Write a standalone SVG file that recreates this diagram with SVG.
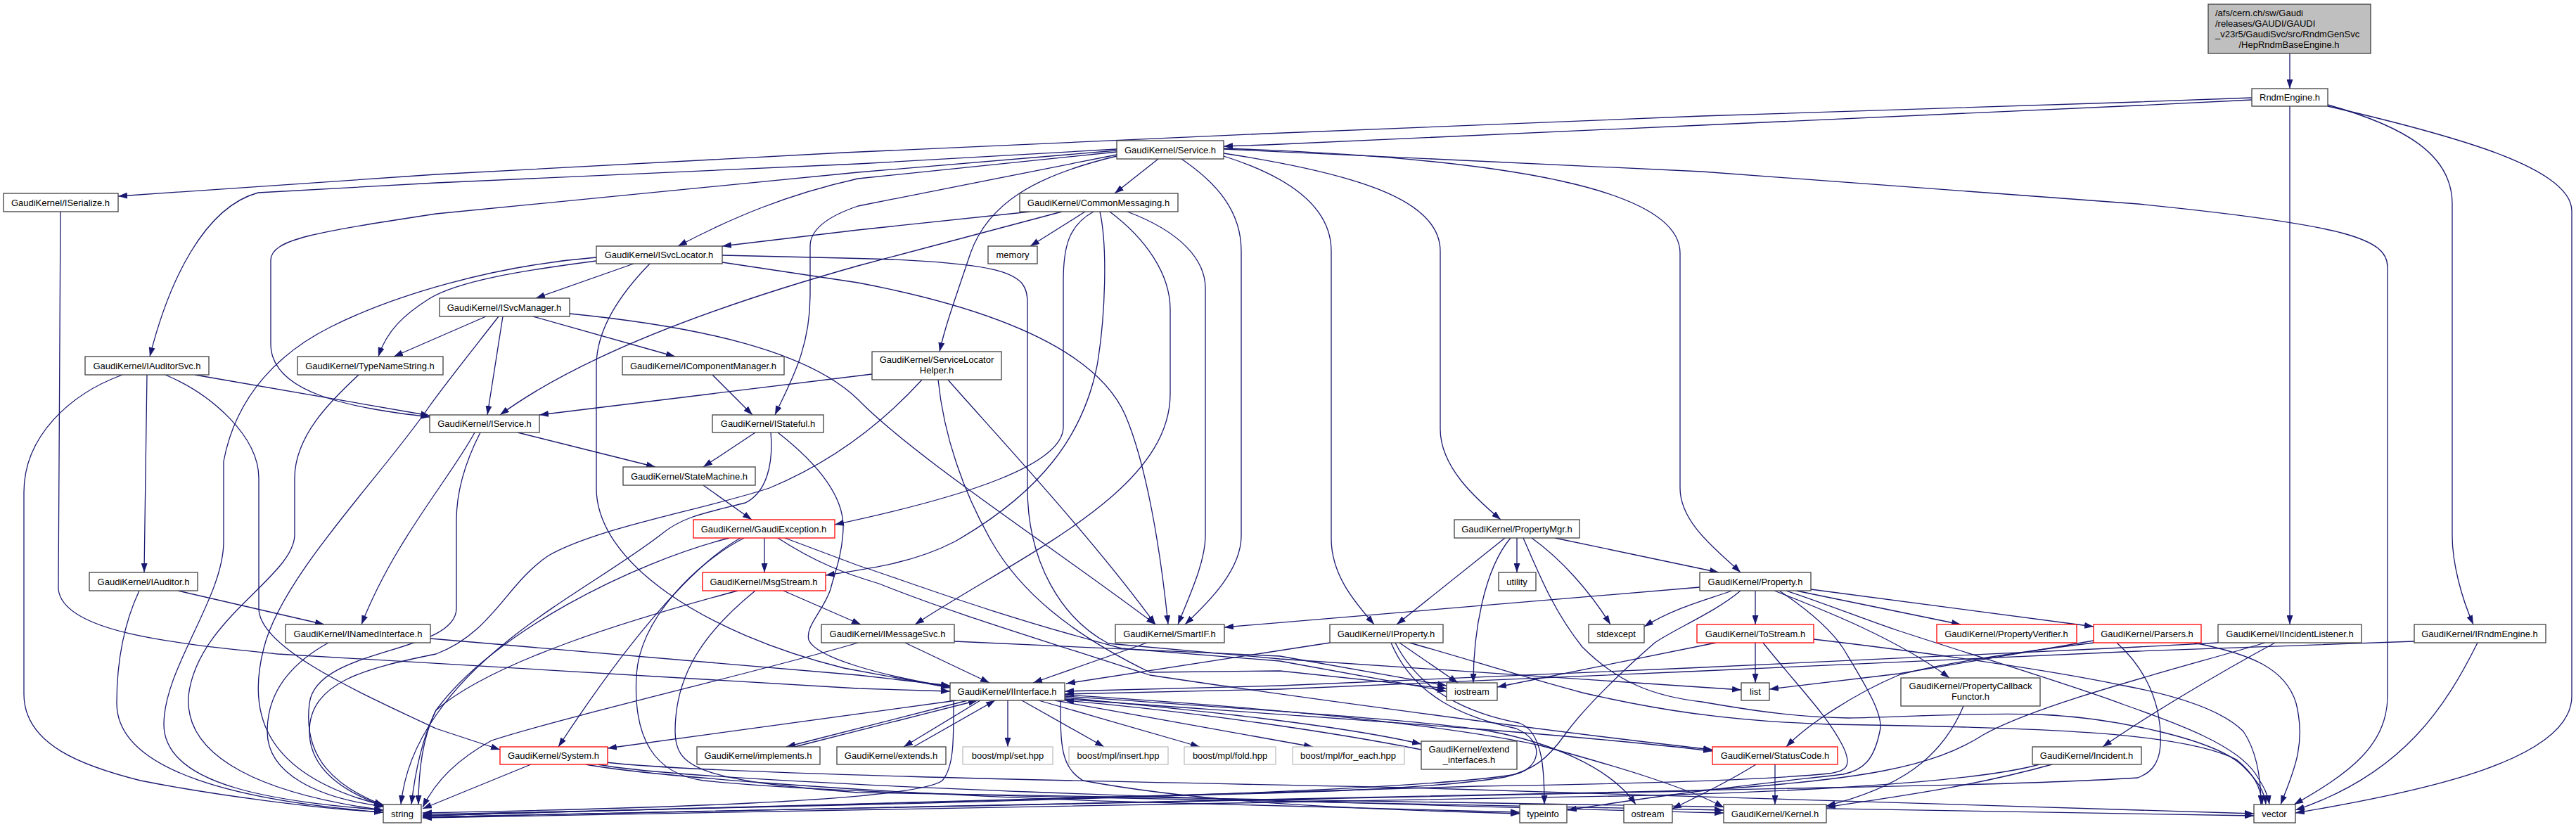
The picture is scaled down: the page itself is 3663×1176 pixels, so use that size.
<svg xmlns="http://www.w3.org/2000/svg" width="3663" height="1176" viewBox="0 0 3663 1176">
<defs>
<marker id="a" viewBox="0 0 13 9" refX="13" refY="4.5" markerWidth="13" markerHeight="9" markerUnits="userSpaceOnUse" orient="auto"><path d="M0,0 L13,4.5 L0,9 z" fill="#191970"/></marker>
</defs>
<style>
.n rect{fill:#fff;stroke:#404040;stroke-width:1.3}
.r rect{fill:#fff;stroke:#ff0000;stroke-width:1.3}
.g rect{fill:#fff;stroke:#bfbfbf;stroke-width:1.3}
.root rect{fill:#bfbfbf;stroke:#404040;stroke-width:1.3}
text{font-family:"Liberation Sans",Arial,Helvetica,sans-serif;font-size:13px;fill:#000;text-anchor:middle}
.l{text-anchor:start}
.e{fill:none;stroke:#191970;stroke-width:1.3;marker-end:url(#a)}
</style>
<rect width="3663" height="1176" fill="#fff"/>
<g id="edges">
<path class="e" d="M3256,76 L3256,126"/>
<path class="e" d="M3202,142 L3040,150 L2420,178 L1800,206 L1740,208"/>
<path class="e" d="M3202,139 L3040,145 L2420,165 L1800,190 L1200,217 L620,248 L168,279"/>
<path class="e" d="M3256,151 L3256,888"/>
<path class="e" d="M3310,149 C3420,180 3487,220 3487,290 L3487,762 C3487,800 3500,850 3517,888"/>
<path class="e" d="M3310,151 C3500,195 3657,240 3657,300 L3657,990 C3657,1080 3450,1125 3264,1156"/>
<path class="e" d="M1740,212 L2420,244 L3040,290 C3340,320 3395,340 3395,380 L3395,990 C3395,1060 3340,1100 3262,1144"/>
<path class="e" d="M1740,211 C2150,225 2389,270 2389,360 L2389,694 C2389,745 2445,785 2475,814"/>
<path class="e" d="M1740,218 C1950,250 2048,290 2048,357 L2048,610 C2048,665 2100,710 2134,739"/>
<path class="e" d="M1740,222 C1845,255 1893,300 1893,357 L1893,766 C1893,820 1930,860 1954,888"/>
<path class="e" d="M1680,226 C1730,260 1765,300 1765,357 L1765,762 C1765,810 1720,855 1685,888"/>
<path class="e" d="M1647,226 L1585,275"/>
<path class="e" d="M1588,222 C1470,250 1405,290 1380,360 C1360,420 1345,460 1336,500"/>
<path class="e" d="M1588,216 L1220,254 C1120,276 1040,310 964,350"/>
<path class="e" d="M1588,212 L1220,233 L620,260 L367,274 C290,295 240,400 213,507"/>
<path class="e" d="M1588,214 L1220,245 L620,304 C450,330 385,340 385,370 L385,489 C385,560 500,580 611,593"/>
<path class="e" d="M1588,220 L1220,293 C1170,310 1152,330 1152,350 L1152,420 C1152,500 1120,550 1102,590"/>
<path class="e" d="M1543,301 L1465,350"/>
<path class="e" d="M1465,301 L1220,327 L1027,350"/>
<path class="e" d="M1510,301 L1220,378 C1000,440 820,510 711,590"/>
<path class="e" d="M1555,301 C1520,320 1512,350 1512,400 L1512,607 C1512,660 1380,705 1187,746"/>
<path class="e" d="M1564,301 C1575,350 1572,450 1560,520 C1540,620 1480,700 1358,770 C1300,800 1240,808 1174,818"/>
<path class="e" d="M1578,301 C1630,340 1664,390 1664,440 L1664,560 C1664,700 1450,790 1301,888"/>
<path class="e" d="M1603,301 C1680,330 1714,370 1714,410 L1714,762 C1714,800 1690,850 1675,888"/>
<path class="e" d="M901,375 L762,424"/>
<path class="e" d="M848,371 C740,385 650,400 610,425 C575,447 550,470 538,507"/>
<path class="e" d="M848,366 C700,378 560,420 470,465 C400,500 336,560 318,656 L318,770 C318,850 233,950 233,1030 C233,1120 400,1140 545,1152"/>
<path class="e" d="M924,375 C880,420 848,470 848,520 L848,694 C848,800 1000,900 1200,950 L1351,978"/>
<path class="e" d="M1027,363 L1200,367 C1440,372 1461,390 1461,430 L1461,694 C1461,800 1510,880 1576,915 L1820,937 L2476,981"/>
<path class="e" d="M1027,373 L1220,402 C1420,440 1560,500 1600,590 C1630,660 1650,780 1661,888"/>
<path class="e" d="M691,450 L560,507"/>
<path class="e" d="M709,450 C670,500 630,550 609,580 C540,680 400,820 375,922 C355,1000 360,1100 548,1146"/>
<path class="e" d="M715,450 L693,590"/>
<path class="e" d="M758,450 L960,507"/>
<path class="e" d="M810,446 C1000,465 1150,500 1220,568 C1300,650 1500,780 1643,888"/>
<path class="e" d="M510,533 C470,570 419,620 419,680 L419,760 C419,820 280,880 268,990 C262,1080 380,1130 545,1152"/>
<path class="e" d="M1013,533 L1070,590"/>
<path class="e" d="M209,533 L205,814"/>
<path class="e" d="M277,533 L611,591"/>
<path class="e" d="M174,533 C100,560 34,620 34,700 L34,987 C34,1060 120,1090 200,1110 C300,1130 450,1150 545,1155"/>
<path class="e" d="M235,533 C300,560 368,620 368,680 L368,865 C368,920 500,980 620,1036 L711,1066"/>
<path class="e" d="M253,840 L461,888"/>
<path class="e" d="M198,840 C170,900 166,960 166,1000 C166,1100 350,1140 545,1155"/>
<path class="e" d="M612,908 L1220,960 L1351,975"/>
<path class="e" d="M467,914 C420,940 380,980 380,1040 C380,1100 450,1135 547,1147"/>
<path class="e" d="M86,301 L83,838 C90,900 250,915 395,930 L1220,979 L1351,983"/>
<path class="e" d="M675,615 C640,680 560,770 514,888"/>
<path class="e" d="M736,615 L932,664"/>
<path class="e" d="M683,615 C660,660 649,700 649,740 L649,865 C649,930 450,920 440,1000 C430,1080 480,1120 545,1145"/>
<path class="e" d="M1240,532 L767,590"/>
<path class="e" d="M1311,540 C1270,585 1200,650 1094,694 C1000,725 850,750 780,790 C720,830 700,900 620,930 C520,950 440,970 440,1040 C440,1100 500,1130 545,1146"/>
<path class="e" d="M1348,540 C1400,600 1550,760 1643,888"/>
<path class="e" d="M1334,540 C1342,620 1370,700 1410,770 C1450,840 1520,900 1635,956 L1820,954 L2057,979"/>
<path class="e" d="M1074,615 L1000,664"/>
<path class="e" d="M1106,615 C1170,665 1200,710 1199,751 C1198,790 1185,820 1181,838 C1170,870 1145,890 1150,910 C1160,935 1250,960 1351,977"/>
<path class="e" d="M1096,615 C1100,660 1090,700 1060,715 C1000,730 970,735 940,760 C850,830 700,900 620,1017 C590,1060 575,1100 570,1144"/>
<path class="e" d="M1000,690 L1069,739"/>
<path class="e" d="M1087,765 L1087,814"/>
<path class="e" d="M1053,765 C990,800 900,900 794,1062"/>
<path class="e" d="M1037,765 C900,800 700,900 620,1010 C600,1050 590,1100 585,1144"/>
<path class="e" d="M1058,765 C990,800 910,880 905,960 C900,1050 930,1100 1000,1110 C1100,1120 1300,1130 1600,1135 L2451,1152"/>
<path class="e" d="M1116,765 L1220,804 C1300,830 1400,870 1595,922 L1820,940 L2057,983"/>
<path class="e" d="M1106,765 C1160,800 1200,815 1250,830 C1350,870 1450,900 1635,960 C1800,985 2200,1040 2435,1066"/>
<path class="e" d="M1114,840 L1224,888"/>
<path class="e" d="M1049,840 C900,880 700,940 620,1010 C600,1050 595,1100 595,1144"/>
<path class="e" d="M1074,840 C1000,900 960,960 960,1040 C960,1090 990,1110 1220,1127 L3205,1160"/>
<path class="e" d="M1287,914 L1407,971"/>
<path class="e" d="M1220,914 C1100,950 800,1020 699,1053 C650,1080 620,1110 601,1148"/>
<path class="e" d="M1357,912 L1820,933 L2057,975"/>
<path class="e" d="M1631,914 L1469,971"/>
<path class="e" d="M2140,765 L1986,888"/>
<path class="e" d="M2148,765 C2110,810 2095,900 2095,971"/>
<path class="e" d="M2157,765 L2157,814"/>
<path class="e" d="M2178,765 C2220,795 2260,840 2290,888"/>
<path class="e" d="M2211,765 L2444,814"/>
<path class="e" d="M2166,765 C2190,820 2210,870 2250,920 C2300,970 2350,990 2420,998 C2500,1012 2560,1020 2629,1021 C2700,1020 2800,1013 2900,1016 C3000,1020 3150,1050 3190,1090 C3210,1110 3220,1125 3222,1144"/>
<path class="e" d="M1891,914 L1516,972"/>
<path class="e" d="M1990,914 L2073,971"/>
<path class="e" d="M1978,914 C2010,990 2080,1020 2156,1036 C2200,1055 2190,1095 2150,1102 C2000,1125 1500,1140 601,1158"/>
<path class="e" d="M1984,914 C2020,985 2090,1015 2160,1028 C2195,1040 2196,1100 2196,1144"/>
<path class="e" d="M2004,914 C2080,935 2156,960 2250,985 C2350,1008 2450,1025 2600,1030 C2900,1035 3100,1040 3180,1080 C3205,1100 3215,1120 3217,1144"/>
<path class="e" d="M2417,835 L1741,892"/>
<path class="e" d="M2496,840 L2496,888"/>
<path class="e" d="M2554,840 L2788,888"/>
<path class="e" d="M2575,838 L2977,891"/>
<path class="e" d="M2523,840 C2600,870 2700,910 2772,964"/>
<path class="e" d="M2463,840 C2420,855 2380,865 2338,891"/>
<path class="e" d="M2475,840 C2440,870 2380,895 2353,914 C2300,960 2250,1010 2225,1045 C2200,1080 2180,1095 2140,1105 C2050,1120 1900,1125 1800,1128 L601,1160"/>
<path class="e" d="M2530,840 C2560,860 2600,890 2621,922 C2650,970 2680,1017 2673,1040 C2665,1080 2650,1095 2621,1101 C2500,1115 2400,1125 2229,1152"/>
<path class="e" d="M2540,840 C2600,860 2650,880 2697,896 C2800,930 2950,975 3020,1002 C3100,1030 3180,1060 3207,1100 C3220,1120 3225,1130 3227,1144"/>
<path class="e" d="M2496,914 L2496,971"/>
<path class="e" d="M2440,914 L2129,977"/>
<path class="e" d="M2507,914 C2560,980 2598,1017 2620,1060 C2635,1090 2625,1097 2600,1100 C2500,1110 2300,1115 2100,1118 L1800,1127 L601,1160"/>
<path class="e" d="M2579,909 C2800,935 2950,960 3020,975 C3100,990 3160,1010 3190,1040 C3210,1070 3215,1110 3215,1144"/>
<path class="e" d="M2977,914 C2850,930 2750,945 2700,960 C2640,985 2570,1030 2540,1062"/>
<path class="e" d="M3120,914 C3200,930 3250,950 3265,1000 C3280,1060 3260,1100 3243,1144"/>
<path class="e" d="M2977,911 L2700,958 L2516,980"/>
<path class="e" d="M3010,914 C3050,950 3075,1000 3072,1060 C3070,1090 3055,1100 3040,1106 C2900,1115 2700,1118 2600,1120 L601,1162"/>
<path class="e" d="M3154,914 L3040,920 L2400,950 L1820,975 L1514,983"/>
<path class="e" d="M3235,914 C3150,960 3050,1020 2990,1062"/>
<path class="e" d="M3221,914 C3100,950 2900,1000 2820,1045 C2750,1090 2650,1110 2400,1125 L601,1162"/>
<path class="e" d="M3433,912 L3040,926 L2400,955 L1820,980 L1514,987"/>
<path class="e" d="M3523,914 C3480,1000 3420,1100 3264,1152"/>
<path class="e" d="M2918,1087 C2800,1120 2680,1135 2597,1148"/>
<path class="e" d="M2900,1087 C2800,1115 2500,1128 2300,1132 L601,1163"/>
<path class="e" d="M2792,1004 C2760,1080 2700,1120 2597,1146"/>
<path class="e" d="M1360,996 L864,1064"/>
<path class="e" d="M1376,996 L1118,1062"/>
<path class="e" d="M1130,1062 L1390,996"/>
<path class="e" d="M1394,996 L1285,1062"/>
<path class="e" d="M1299,1062 L1415,996"/>
<path class="e" d="M1433,996 L1433,1062"/>
<path class="e" d="M1453,996 L1570,1062"/>
<path class="e" d="M1477,996 L1706,1062"/>
<path class="e" d="M1500,996 L1867,1062"/>
<path class="e" d="M1514,992 C1700,1010 1900,1030 2021,1058"/>
<path class="e" d="M2021,1066 C1900,1042 1700,1012 1514,996"/>
<path class="e" d="M1356,996 C1356,1050 1357,1090 1340,1110 C1300,1140 900,1150 601,1156"/>
<path class="e" d="M1508,996 C1508,1060 1508,1090 1540,1110 C1700,1140 1900,1150 2161,1157"/>
<path class="e" d="M1514,990 C1800,1010 2037,1025 2120,1040 C2200,1055 2290,1090 2326,1144"/>
<path class="e" d="M1514,994 C1800,1015 2200,1040 2435,1068"/>
<path class="e" d="M1514,988 C1800,1006 2050,1030 2190,1060 C2300,1090 2400,1120 2451,1148"/>
<path class="e" d="M755,1087 L601,1150"/>
<path class="e" d="M833,1087 C900,1100 1200,1127 1600,1140 L2161,1155"/>
<path class="e" d="M861,1084 C1000,1100 1500,1110 2000,1120 L3205,1157"/>
<path class="e" d="M850,1087 C1000,1115 1800,1140 2451,1156"/>
<path class="e" d="M2497,1087 C2460,1110 2420,1130 2378,1150"/>
<path class="e" d="M2524,1087 L2524,1144"/>
</g>
<g id="n_root" class="root"><rect x="3140" y="6" width="231" height="70"/><text class="l" x="3150" y="23">/afs/cern.ch/sw/Gaudi</text><text class="l" x="3150" y="38">/releases/GAUDI/GAUDI</text><text class="l" x="3150" y="53">_v23r5/GaudiSvc/src/RndmGenSvc</text><text x="3255" y="68">/HepRndmBaseEngine.h</text></g>
<g id="n_rndmengine" class="n"><rect x="3202" y="126" width="108" height="25"/><text x="3256" y="143">RndmEngine.h</text></g>
<g id="n_service" class="n"><rect x="1588" y="200" width="152" height="26"/><text x="1664" y="218">GaudiKernel/Service.h</text></g>
<g id="n_iserialize" class="n"><rect x="5" y="275" width="163" height="26"/><text x="86" y="293">GaudiKernel/ISerialize.h</text></g>
<g id="n_commonmessaging" class="n"><rect x="1450" y="275" width="225" height="26"/><text x="1562" y="293">GaudiKernel/CommonMessaging.h</text></g>
<g id="n_memory" class="n"><rect x="1405" y="350" width="70" height="25"/><text x="1440" y="367">memory</text></g>
<g id="n_isvclocator" class="n"><rect x="848" y="350" width="179" height="25"/><text x="937" y="367">GaudiKernel/ISvcLocator.h</text></g>
<g id="n_isvcmanager" class="n"><rect x="625" y="424" width="185" height="26"/><text x="717" y="442">GaudiKernel/ISvcManager.h</text></g>
<g id="n_typenamestring" class="n"><rect x="423" y="507" width="207" height="26"/><text x="526" y="525">GaudiKernel/TypeNameString.h</text></g>
<g id="n_icomponentmanager" class="n"><rect x="885" y="507" width="230" height="26"/><text x="1000" y="525">GaudiKernel/IComponentManager.h</text></g>
<g id="n_iauditorsvc" class="n"><rect x="121" y="507" width="176" height="26"/><text x="209" y="525">GaudiKernel/IAuditorSvc.h</text></g>
<g id="n_servicelocatorhelper" class="n"><rect x="1240" y="500" width="184" height="40"/><text x="1332" y="516">GaudiKernel/ServiceLocator</text><text x="1332" y="531">Helper.h</text></g>
<g id="n_iservice" class="n"><rect x="611" y="590" width="156" height="25"/><text x="689" y="607">GaudiKernel/IService.h</text></g>
<g id="n_istateful" class="n"><rect x="1013" y="590" width="158" height="25"/><text x="1092" y="607">GaudiKernel/IStateful.h</text></g>
<g id="n_statemachine" class="n"><rect x="886" y="664" width="188" height="26"/><text x="980" y="682">GaudiKernel/StateMachine.h</text></g>
<g id="n_gaudiexception" class="r"><rect x="986" y="739" width="201" height="26"/><text x="1086" y="757">GaudiKernel/GaudiException.h</text></g>
<g id="n_msgstream" class="r"><rect x="999" y="814" width="175" height="26"/><text x="1086" y="832">GaudiKernel/MsgStream.h</text></g>
<g id="n_iauditor" class="n"><rect x="127" y="814" width="154" height="26"/><text x="204" y="832">GaudiKernel/IAuditor.h</text></g>
<g id="n_inamedinterface" class="n"><rect x="406" y="888" width="206" height="26"/><text x="509" y="906">GaudiKernel/INamedInterface.h</text></g>
<g id="n_imessagesvc" class="n"><rect x="1168" y="888" width="189" height="26"/><text x="1262" y="906">GaudiKernel/IMessageSvc.h</text></g>
<g id="n_smartif" class="n"><rect x="1586" y="888" width="155" height="26"/><text x="1663" y="906">GaudiKernel/SmartIF.h</text></g>
<g id="n_propertymgr" class="n"><rect x="2068" y="739" width="178" height="26"/><text x="2157" y="757">GaudiKernel/PropertyMgr.h</text></g>
<g id="n_utility" class="n"><rect x="2131" y="814" width="53" height="26"/><text x="2157" y="832">utility</text></g>
<g id="n_property" class="n"><rect x="2417" y="814" width="158" height="26"/><text x="2496" y="832">GaudiKernel/Property.h</text></g>
<g id="n_iproperty" class="n"><rect x="1891" y="888" width="161" height="26"/><text x="1971" y="906">GaudiKernel/IProperty.h</text></g>
<g id="n_stdexcept" class="n"><rect x="2259" y="888" width="79" height="26"/><text x="2298" y="906">stdexcept</text></g>
<g id="n_tostream" class="r"><rect x="2413" y="888" width="166" height="26"/><text x="2496" y="906">GaudiKernel/ToStream.h</text></g>
<g id="n_propertyverifier" class="r"><rect x="2754" y="888" width="199" height="26"/><text x="2853" y="906">GaudiKernel/PropertyVerifier.h</text></g>
<g id="n_parsers" class="r"><rect x="2977" y="888" width="153" height="26"/><text x="3053" y="906">GaudiKernel/Parsers.h</text></g>
<g id="n_iincidentlistener" class="n"><rect x="3154" y="888" width="204" height="26"/><text x="3256" y="906">GaudiKernel/IIncidentListener.h</text></g>
<g id="n_irndmengine" class="n"><rect x="3433" y="888" width="187" height="26"/><text x="3526" y="906">GaudiKernel/IRndmEngine.h</text></g>
<g id="n_iostream" class="n"><rect x="2057" y="971" width="72" height="25"/><text x="2093" y="988">iostream</text></g>
<g id="n_list" class="n"><rect x="2476" y="971" width="40" height="25"/><text x="2496" y="988">list</text></g>
<g id="n_iinterface" class="n"><rect x="1351" y="971" width="163" height="25"/><text x="1432" y="988">GaudiKernel/IInterface.h</text></g>
<g id="n_propertycallbackfunctor" class="n"><rect x="2703" y="964" width="198" height="40"/><text x="2802" y="980">GaudiKernel/PropertyCallback</text><text x="2802" y="995">Functor.h</text></g>
<g id="n_system" class="r"><rect x="711" y="1062" width="153" height="25"/><text x="787" y="1079">GaudiKernel/System.h</text></g>
<g id="n_implements" class="n"><rect x="991" y="1062" width="175" height="25"/><text x="1078" y="1079">GaudiKernel/implements.h</text></g>
<g id="n_extends" class="n"><rect x="1190" y="1062" width="155" height="25"/><text x="1267" y="1079">GaudiKernel/extends.h</text></g>
<g id="n_mplset" class="g"><rect x="1369" y="1062" width="128" height="25"/><text x="1433" y="1079">boost/mpl/set.hpp</text></g>
<g id="n_mplinsert" class="g"><rect x="1520" y="1062" width="141" height="25"/><text x="1590" y="1079">boost/mpl/insert.hpp</text></g>
<g id="n_mplfold" class="g"><rect x="1684" y="1062" width="130" height="25"/><text x="1749" y="1079">boost/mpl/fold.hpp</text></g>
<g id="n_mplforeach" class="g"><rect x="1838" y="1062" width="159" height="25"/><text x="1917" y="1079">boost/mpl/for_each.hpp</text></g>
<g id="n_extendinterfaces" class="n"><rect x="2021" y="1054" width="136" height="40"/><text x="2089" y="1070">GaudiKernel/extend</text><text x="2089" y="1085">_interfaces.h</text></g>
<g id="n_statuscode" class="r"><rect x="2435" y="1062" width="178" height="25"/><text x="2524" y="1079">GaudiKernel/StatusCode.h</text></g>
<g id="n_incident" class="n"><rect x="2890" y="1062" width="155" height="25"/><text x="2967" y="1079">GaudiKernel/Incident.h</text></g>
<g id="n_string" class="n"><rect x="545" y="1144" width="54" height="26"/><text x="572" y="1162">string</text></g>
<g id="n_typeinfo" class="n"><rect x="2161" y="1144" width="67" height="26"/><text x="2194" y="1162">typeinfo</text></g>
<g id="n_ostream" class="n"><rect x="2309" y="1144" width="69" height="26"/><text x="2343" y="1162">ostream</text></g>
<g id="n_kernel" class="n"><rect x="2451" y="1144" width="146" height="26"/><text x="2524" y="1162">GaudiKernel/Kernel.h</text></g>
<g id="n_vector" class="n"><rect x="3205" y="1144" width="59" height="26"/><text x="3234" y="1162">vector</text></g>
</svg>
